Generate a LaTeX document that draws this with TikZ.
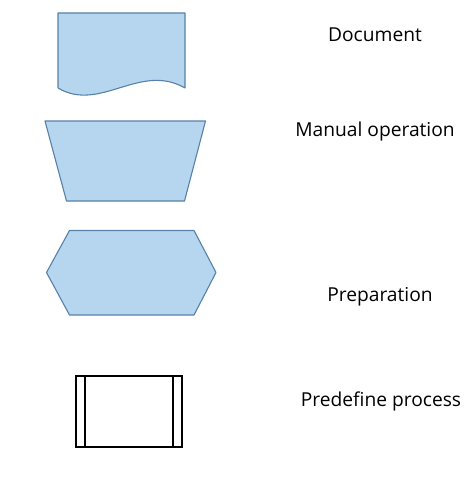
\documentclass[tikz,border=0pt]{standalone}
\usepackage{fontspec}
\setmainfont{Open Sans}
\usepackage{xcolor}
\definecolor{shapefill}{RGB}{181,214,238}
\definecolor{shapeedge}{RGB}{88,128,168}

\begin{document}
\begin{tikzpicture}[x=1pt, y=-1pt, every node/.style={font=\fontsize{19.2}{23}\selectfont, inner sep=0pt},
  blueshape/.style={fill=shapefill, draw=shapeedge, line width=1.1pt, line join=round},
  plainshape/.style={draw=black, line width=2pt}]
\useasboundingbox (0,0) rectangle (473,500);

% Document
\coordinate (d1) at (58,13);
\coordinate (d2) at (185,13);
\coordinate (d3) at (185,88);
\coordinate (d4) at (58,88);
\draw[blueshape] (d4) -- (d1) -- (d2) -- (d3)
  .. controls (140,62) and (100,113) .. (d4);
\node (doc) at (375,35) {Document};

% Manual operation
\coordinate (m1) at (45,121);
\coordinate (m2) at (205.5,121);
\coordinate (m3) at (184.5,201);
\coordinate (m4) at (66.5,201);
\draw[blueshape] (m1) -- (m2) -- (m3) -- (m4) -- cycle;
\node (man) at (375,131.5) {Manual operation};

% Preparation
\coordinate (p1) at (69.5,230.5);
\coordinate (p2) at (194,230.5);
\coordinate (p3) at (216,272.5);
\coordinate (p4) at (194,315);
\coordinate (p5) at (69.5,315);
\coordinate (p6) at (46.5,272.5);
\draw[blueshape] (p1) -- (p2) -- (p3) -- (p4) -- (p5) -- (p6) -- cycle;
\node (prep) at (380,297) {Preparation};

% Predefine process
\coordinate (q1) at (76,376);
\coordinate (q2) at (181.5,447);
\draw[plainshape] (q1) rectangle (q2);
\draw[plainshape] (84.5,376) -- (84.5,447);
\draw[plainshape] (173,376) -- (173,447);
\node (pre) at (381,401.5) {Predefine process};

\end{tikzpicture}
\end{document}
